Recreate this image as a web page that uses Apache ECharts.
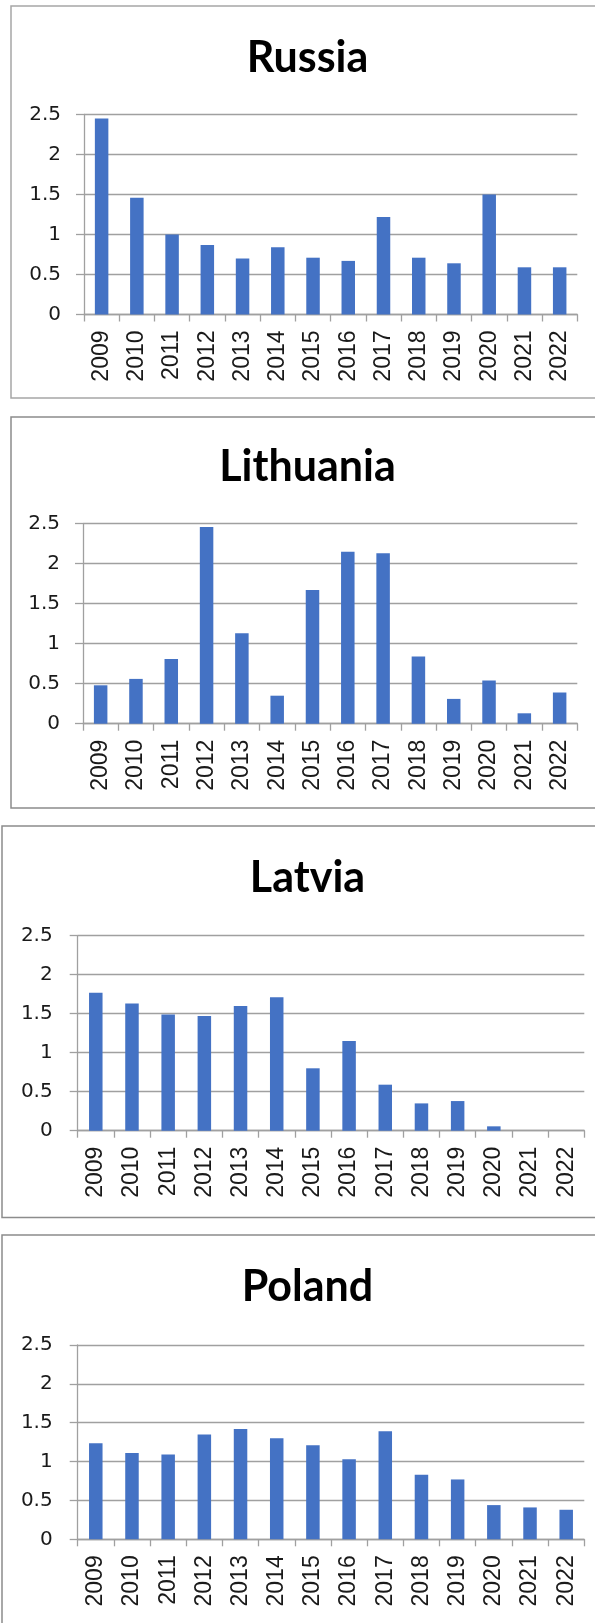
<!DOCTYPE html>
<html>
<head>
<meta charset="utf-8">
<script src="https://cdn.jsdelivr.net/npm/echarts@6/dist/echarts.min.js"></script>
<style>
html,body{margin:0;padding:0;background:#fff;}
#c{width:595px;height:1623px;}
</style>
</head>
<body>
<div id="c"></div>
<script>
const years = ['2009','2010','2011','2012','2013','2014','2015','2016','2017','2018','2019','2020','2021','2022'];
const titles = ['Russia','Lithuania','Latvia','Poland'];
const russia    = [2.45, 1.46, 1.00, 0.87, 0.70, 0.84, 0.71, 0.67, 1.22, 0.71, 0.64, 1.50, 0.59, 0.59];
const lithuania = [0.48, 0.56, 0.81, 2.46, 1.13, 0.35, 1.67, 2.15, 2.13, 0.84, 0.31, 0.54, 0.13, 0.39];
const latvia    = [1.77, 1.63, 1.49, 1.47, 1.60, 1.71, 0.80, 1.15, 0.59, 0.35, 0.38, 0.056, 0, 0];
const poland    = [1.235, 1.11, 1.09, 1.35, 1.42, 1.30, 1.21, 1.03, 1.39, 0.83, 0.77, 0.44, 0.41, 0.38];
const yMin = 0, yMax = 2.5, yStep = 0.5;

const seriesData = [russia, lithuania, latvia, poland];

// layout per panel (pixels)
const panels = [
  {box:[11, 6, 620, 392],   grid:{left:84,   top:114.5, width:493.3, height:200},   titleY:53,   yMargin:23, border:'#a6a6a6'},
  {box:[11, 417, 620, 391], grid:{left:83,   top:523.7, width:494.3, height:200},   titleY:462,  yMargin:23, border:'#8c8c8c'},
  {box:[2, 826, 620, 391.5],grid:{left:77.7, top:935.7, width:506.6, height:195},   titleY:873,  yMargin:25, border:'#8c8c8c'},
  {box:[2, 1235, 620, 420], grid:{left:77.7, top:1345,  width:506.6, height:194.3}, titleY:1282, yMargin:25, border:'#8c8c8c'}
];

const gridColor = '#a0a0a0';
const titleSize = 43;

const option = {
  animation:false,
  backgroundColor:'#fff',
  title: panels.map((p,i)=>({
    text: titles[i],
    left: 302.5,
    top: p.titleY - titleSize/2,
    textAlign:'center',
    textStyle:{fontFamily:'Lato', fontWeight:'bold', fontSize:titleSize, lineHeight:titleSize, color:'#000'}
  })),
  graphic: panels.map(p=>({
    type:'rect', silent:true, z:-1,
    shape:{x:p.box[0], y:p.box[1], width:p.box[2], height:p.box[3]},
    style:{fill:'none', stroke:p.border, lineWidth:1.5}
  })),
  grid: panels.map(p=>Object.assign({containLabel:false}, p.grid)),
  xAxis: panels.map((p,i)=>({
    type:'category', gridIndex:i, data:years, boundaryGap:true,
    axisLine:{show:true, lineStyle:{color:gridColor, width:1.3}},
    axisTick:{show:true, length:7, alignWithLabel:false, lineStyle:{color:gridColor, width:1.3}},
    axisLabel:{rotate:90, margin:16, fontFamily:'Liberation Sans', fontSize:23, color:'#1a1a1a', interval:0}
  })),
  yAxis: panels.map((p,i)=>({
    type:'value', gridIndex:i, min:yMin, max:yMax, interval:yStep,
    axisLine:{show:true, lineStyle:{color:gridColor, width:1.3}},
    axisTick:{show:true, length:8, lineStyle:{color:gridColor, width:1.3}},
    splitLine:{show:true, lineStyle:{color:gridColor, width:1.3}},
    axisLabel:{margin:p.yMargin, fontFamily:'DejaVu Sans', fontSize:20, color:'#1a1a1a'}
  })),
  series: seriesData.map((d,i)=>({
    type:'bar', xAxisIndex:i, yAxisIndex:i, data:d, barWidth:13.5,
    itemStyle:{color:'#4472C4'}
  }))
};

const chart = echarts.init(document.getElementById('c'), null, {renderer:'canvas'});
chart.setOption(option);
</script>
</body>
</html>
